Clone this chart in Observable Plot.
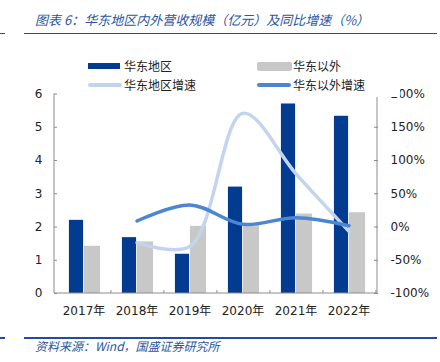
<!DOCTYPE html>
<html><head><meta charset="utf-8">
<script src="https://cdn.jsdelivr.net/npm/d3@7"></script>
<script src="https://cdn.jsdelivr.net/npm/@observablehq/plot@0.6"></script>
<style>
body{margin:0;background:#fff;}
#wrap{position:relative;width:440px;height:362px;overflow:hidden;font-family:"Noto Sans CJK SC",sans-serif;background:#fff;}
.rule{position:absolute;height:1.6px;background:#1F4E9D;}
#title{position:absolute;left:35px;top:10px;font-size:13px;line-height:20px;font-style:italic;color:#2A56A0;white-space:nowrap;}
#caption{position:absolute;left:35px;top:337px;font-size:12px;line-height:18px;font-style:italic;color:#2A56A0;white-space:nowrap;}
#chart{position:absolute;left:0;top:0;}
#legend{position:absolute;left:85px;top:55px;width:315px;height:41.5px;background:#fff;z-index:2;font-size:12px;color:#222;}
.sw{position:absolute;}
.lt{position:absolute;line-height:16px;white-space:nowrap;}
</style></head><body>
<div id="wrap">
  <div id="title">图表 6：华东地区内外营收规模（亿元）及同比增速（%）</div>
  <div class="rule" style="left:0;width:5px;top:32.5px"></div>
  <div class="rule" style="left:24px;width:413px;top:32.5px"></div>
  <div id="chart"></div>
  <div id="legend"></div>
  <div class="rule" style="left:0;width:5px;top:337px"></div>
  <div class="rule" style="left:24px;width:413px;top:337px"></div>
  <div id="caption">资料来源：Wind，国盛证券研究所</div>
</div>
<script>
// ---- data ----
const years = ["2017年", "2018年", "2019年", "2020年", "2021年", "2022年"];
const eastRevenue = [2.2, 1.68, 1.18, 3.2, 5.7, 5.33];
const otherRevenue = [1.42, 1.55, 2.02, 2.06, 2.39, 2.43];
const eastGrowth = [null, -23.6, -29.0, 171, 80, -6.5];
const otherGrowth = [null, 9, 33, 4, 14, 2];
const leftTicks = [0, 1, 2, 3, 4, 5, 6];
const leftTickLabels = ["0", "1", "2", "3", "4", "5", "6"];
const rightTickLabels = ["-100%", "-50%", "0%", "50%", "100%", "150%", "200%"];
const seriesNames = ["华东地区", "华东以外", "华东地区增速", "华东以外增速"];
const colors = ["#023B8F", "#C8C8C8", "#C3D5EE", "#4A86D1"];

// growth (%) mapped onto left-axis units: -100% -> 0, 200% -> 6
const toLeft = g => (g + 100) / 50;

const bars = years.map((year, i) => ({year, east: eastRevenue[i], other: otherRevenue[i]}));
const g1 = years.map((year, i) => ({year, g: eastGrowth[i]})).filter(d => d.g != null);
const g2 = years.map((year, i) => ({year, g: otherGrowth[i]})).filter(d => d.g != null);

const W = 440, H = 320, mL = 54, mR = 63, mT = 93.5, mB = 27;
const half = (W - mL - mR) / years.length / 2;
const axisColor = "#8c8c8c";

const frameLines = (index, scales, values, dims) => {
  const g = d3.create("svg:g").attr("stroke", axisColor).attr("fill", "none");
  const x0 = dims.marginLeft, x1 = dims.width - dims.marginRight;
  const y0 = scales.y(0), y1 = scales.y(6);
  g.append("line").attr("x1", x0).attr("x2", x0).attr("y1", y0).attr("y2", y1);
  g.append("line").attr("x1", x1).attr("x2", x1).attr("y1", y0).attr("y2", y1);
  g.append("line").attr("x1", x0).attr("x2", x1).attr("y1", y0).attr("y2", y0);
  return g.node();
};

const chart = Plot.plot({
  width: W, height: H,
  marginTop: mT, marginBottom: mB, marginLeft: mL, marginRight: mR,
  style: {fontFamily: '"DejaVu Sans","Noto Sans CJK SC",sans-serif', fontSize: "12px", color: "#222", background: "transparent", overflow: "visible"},
  x: {type: "band", domain: years, paddingInner: 0, paddingOuter: 0, label: null},
  y: {domain: [0, 6], label: null},
  marks: [
    Plot.barY(bars, {x: "year", y: "east", fill: colors[0], insetLeft: half - 15, insetRight: half}),
    Plot.barY(bars, {x: "year", y: "other", fill: colors[1], insetLeft: half, insetRight: half - 17}),
    frameLines,
    Plot.line(g1, {x: "year", y: d => toLeft(d.g), curve: "catmull-rom", stroke: colors[2], strokeWidth: 3.5}),
    Plot.line(g2, {x: "year", y: d => toLeft(d.g), curve: "catmull-rom", stroke: colors[3], strokeWidth: 3.5}),
    Plot.axisY({anchor: "left", ticks: leftTicks, tickSize: 0, tickPadding: 12, tickFormat: i => leftTickLabels[i], label: null}),
    Plot.axisY({anchor: "left", ticks: leftTicks, tickSize: 3, dx: 3, tickFormat: () => "", stroke: axisColor, label: null}),
    Plot.axisY({anchor: "right", ticks: leftTicks, tickSize: 0, tickPadding: 13, tickFormat: i => rightTickLabels[i], label: null}),
    Plot.axisY({anchor: "right", ticks: leftTicks, tickSize: 4, dx: -4, tickFormat: () => "", stroke: axisColor, label: null}),
    Plot.axisX({anchor: "bottom", tickSize: 0, tickPadding: 13, label: null}),
    Plot.axisX({anchor: "bottom", tickSize: 3, dx: half, dy: -3, tickFormat: () => "", stroke: axisColor, label: null})
  ]
});
document.getElementById("chart").appendChild(chart);

// ---- legend ----
const legend = document.getElementById("legend");
const items = [
  {name: seriesNames[0], color: colors[0], col: 0, row: 0, type: "bar1"},
  {name: seriesNames[1], color: colors[1], col: 1, row: 0, type: "bar2"},
  {name: seriesNames[2], color: colors[2], col: 0, row: 1, type: "line"},
  {name: seriesNames[3], color: colors[3], col: 1, row: 1, type: "line"}
];
items.forEach(it => {
  const left = it.col === 0 ? 3 : 172;
  const cy = it.row === 0 ? 11 : 30;
  const sw = document.createElement("div");
  sw.className = "sw";
  sw.style.background = it.color;
  sw.style.left = left + "px";
  if (it.type === "bar1") { sw.style.width = "32px"; sw.style.height = "6px"; sw.style.top = (cy - 3) + "px"; }
  else if (it.type === "bar2") { sw.style.width = "35px"; sw.style.height = "9px"; sw.style.top = (cy - 4.5) + "px"; sw.style.borderRadius = "2px"; }
  else { sw.style.width = "34px"; sw.style.height = "3.5px"; sw.style.top = (cy - 1.75) + "px"; sw.style.borderRadius = "2px"; }
  legend.appendChild(sw);
  const t = document.createElement("div");
  t.className = "lt";
  t.textContent = it.name;
  t.style.left = (left + 36) + "px";
  t.style.top = (cy - 8.5) + "px";
  legend.appendChild(t);
});
</script>
</body></html>
